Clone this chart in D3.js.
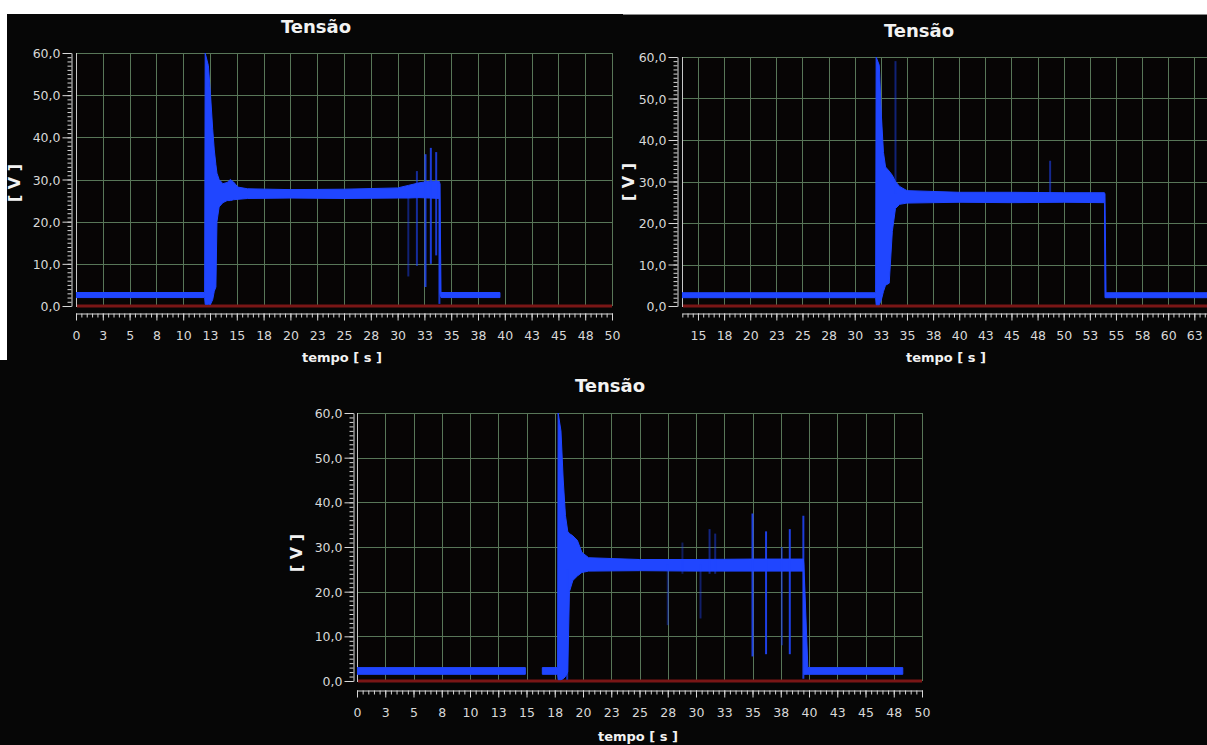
<!DOCTYPE html>
<html>
<head>
<meta charset="utf-8">
<script src="https://cdn.jsdelivr.net/npm/d3@7"></script>
<style>
  html, body { margin: 0; padding: 0; background: #060606; }
  svg { display: block; }
</style>
</head>
<body>
<svg id="chart" width="1207" height="745"></svg>
<script>
// ---- Axis ticks and labels ----
const yTickValues = [0, 10, 20, 30, 40, 50, 60];
const yTickLabels = ["0,0", "10,0", "20,0", "30,0", "40,0", "50,0", "60,0"];

const xTickValuesA = [0, 2.5, 5, 7.5, 10, 12.5, 15, 17.5, 20, 22.5, 25, 27.5, 30, 32.5, 35, 37.5, 40, 42.5, 45, 47.5, 50];
const xTickLabelsA = ["0", "3", "5", "8", "10", "13", "15", "18", "20", "23", "25", "28", "30", "33", "35", "38", "40", "43", "45", "48", "50"];

const xTickValuesB = [15, 17.5, 20, 22.5, 25, 27.5, 30, 32.5, 35, 37.5, 40, 42.5, 45, 47.5, 50, 52.5, 55, 57.5, 60, 62.5];
const xTickLabelsB = ["15", "18", "20", "23", "25", "28", "30", "33", "35", "38", "40", "43", "45", "48", "50", "53", "55", "58", "60", "63"];

// ---- Voltage traces: [time s, min V, max V]; null breaks the trace ----
const envelopeA = [
  [0, 2.0, 3.2], [12.0, 2.0, 3.2],
  [12.05, 0.4, 60], [12.35, 0.4, 57], [12.55, 0.4, 50], [12.75, 1.5, 42],
  [12.9, 3.5, 37], [13.05, 4.5, 33.5], [13.15, 20, 31.5], [13.35, 23.5, 30],
  [13.7, 24.5, 29], [14.1, 25, 29.3], [14.4, 25, 30], [14.7, 25.2, 29.4],
  [15.1, 25.3, 28.2], [16, 25.5, 27.8], [20, 25.6, 27.6], [25, 25.5, 27.7],
  [30, 25.6, 28], [31, 25.6, 28.6], [32, 25.7, 29.2], [33, 25.6, 29.6],
  [33.9, 25.5, 29.5], [33.95, 3, 29], [34.05, 2.0, 3.2], [39.55, 2.0, 3.2]
];
// isolated transients: [time s, min V, max V, intensity]
const spikesA = [
  [31.0, 7, 27, 0.45], [31.8, 9.5, 32, 0.6], [32.6, 4.5, 36, 0.85],
  [33.1, 10, 37.5, 0.85], [33.6, 12, 36.5, 0.8], [33.9, 0.5, 29, 0.8]
];

const envelopeB = [
  [13.47, 2.0, 3.2], [32.0, 2.0, 3.2],
  [32.05, 0.3, 60], [32.35, 0.3, 58], [32.55, 1.5, 46], [32.75, 3.5, 37],
  [32.95, 5, 33.5], [33.3, 5.5, 32.5], [33.6, 18, 31.5], [33.9, 23.5, 30],
  [34.3, 24.5, 28.8], [35, 24.8, 27.8], [40, 25, 27.4], [45, 24.9, 27.4],
  [50, 25, 27.3], [53.9, 24.9, 27.3], [53.95, 2, 27], [54.05, 2.0, 3.2], [64, 2.0, 3.2]
];
const spikesB = [
  [33.9, 27, 59, 0.45], [48.7, 27, 35, 0.55]
];

const envelopeC = [
  [0, 1.5, 3.0], [14.9, 1.5, 3.0], null,
  [16.4, 1.5, 3.0], [17.75, 1.5, 3.0],
  [17.8, 0.3, 60], [18.05, 0.3, 56], [18.25, 0.5, 45], [18.45, 1, 37],
  [18.65, 2, 33.5], [18.8, 20, 33], [19.1, 22.5, 32.5], [19.5, 23.5, 31.5],
  [19.9, 24.3, 28.8], [20.5, 24.6, 27.6], [25, 24.7, 27.2], [30, 24.6, 27.2],
  [35, 24.6, 27.3], [39.5, 24.6, 27.3], [39.55, 1.5, 26], [39.9, 1.5, 3.0], [48.3, 1.5, 3.0]
];
const spikesC = [
  [18.6, 0.3, 25, 0.7], [27.5, 12.5, 26, 0.4], [28.8, 24, 31, 0.35],
  [30.4, 14, 26, 0.4], [31.2, 24, 34, 0.5], [31.7, 24, 33, 0.45],
  [35.0, 5.5, 37.5, 0.9], [36.2, 6, 33.5, 0.9], [37.6, 8, 30, 0.5],
  [38.3, 6, 34, 0.9], [39.5, 0.5, 37, 0.85]
];

// ---- Panel layout ----
const panels = [
  { id: "a", left: 76, right: 612, top: 53, bottom: 306, yAxisX: 71, xAxisY: 313,
    xDomain: [0, 50], xTicks: xTickValuesA, xLabels: xTickLabelsA,
    envelope: envelopeA, spikes: spikesA,
    title: [316, 33], yTitle: [14, 183], xTitle: [342, 362] },
  { id: "b", left: 682, right: 1210, top: 57, bottom: 306, yAxisX: 677, xAxisY: 313,
    xDomain: [13.47, 64], xTicks: xTickValuesB, xLabels: xTickLabelsB,
    envelope: envelopeB, spikes: spikesB,
    title: [919, 37], yTitle: [628, 182], xTitle: [946, 362] },
  { id: "c", left: 357, right: 922, top: 413, bottom: 681, yAxisX: 353, xAxisY: 690,
    xDomain: [0, 50], xTicks: xTickValuesA, xLabels: xTickLabelsA,
    envelope: envelopeC, spikes: spikesC,
    title: [610, 392], yTitle: [296, 553], xTitle: [638, 741] }
];

const TRACE = "#2046ff";
const GRID = "#587658";
const AXIS = "#d8d8d8";
const ZERO = "#7a1616";

const svg = d3.select("#chart");
svg.append("rect").attr("width", 1207).attr("height", 745).attr("fill", "#060606");
// light margin along the top and upper left edge
svg.append("rect").attr("x", 0).attr("y", 0).attr("width", 1207).attr("height", 14).attr("fill", "#ffffff");
svg.append("rect").attr("x", 0).attr("y", 0).attr("width", 7).attr("height", 360).attr("fill", "#ffffff");
svg.append("line").attr("x1", 623).attr("x2", 1207).attr("y1", 14.5).attr("y2", 14.5)
  .attr("stroke", "#8a8a8a").attr("stroke-width", 1);

const defs = svg.append("defs");

function drawPanel(p) {
  const x = d3.scaleLinear().domain(p.xDomain).range([p.left, p.right]);
  const y = d3.scaleLinear().domain([0, 60]).range([p.bottom, p.top]);
  const g = svg.append("g");

  defs.append("clipPath").attr("id", "clip-" + p.id)
    .append("rect").attr("x", p.left).attr("y", p.top - 2)
    .attr("width", p.right - p.left).attr("height", p.bottom - p.top + 4);

  // plot background
  g.append("rect").attr("x", p.left).attr("y", p.top)
    .attr("width", p.right - p.left).attr("height", p.bottom - p.top)
    .attr("fill", "#070505");

  // grid
  g.selectAll("line.hgrid").data(yTickValues.filter(v => v > 0)).join("line")
    .attr("class", "hgrid")
    .attr("x1", p.left).attr("x2", p.right)
    .attr("y1", d => Math.round(y(d)) + 0.5).attr("y2", d => Math.round(y(d)) + 0.5)
    .attr("stroke", GRID).attr("stroke-width", 1);
  g.selectAll("line.vgrid").data(p.xTicks.filter(v => v > p.xDomain[0])).join("line")
    .attr("class", "vgrid")
    .attr("x1", d => Math.round(x(d)) + 0.5).attr("x2", d => Math.round(x(d)) + 0.5)
    .attr("y1", p.top).attr("y2", p.bottom)
    .attr("stroke", GRID).attr("stroke-width", 1);
  // right edge of the plot
  g.append("line").attr("x1", p.right + 0.5).attr("x2", p.right + 0.5)
    .attr("y1", p.top).attr("y2", p.bottom).attr("stroke", GRID);
  // left edge of the plot
  g.append("line").attr("x1", p.left + 0.5).attr("x2", p.left + 0.5)
    .attr("y1", p.top).attr("y2", p.bottom + 1).attr("stroke", "#c8c8c8");

  // zero reference
  g.append("line").attr("x1", p.left + 1).attr("x2", p.right)
    .attr("y1", y(0)).attr("y2", y(0))
    .attr("stroke", ZERO).attr("stroke-width", 3);

  // trace
  const trace = g.append("g").attr("clip-path", "url(#clip-" + p.id + ")");
  const area = d3.area()
    .defined(d => d !== null)
    .x(d => x(d[0]))
    .y0(d => y(d[1]))
    .y1(d => y(d[2]));
  trace.append("path").datum(p.envelope)
    .attr("d", area)
    .attr("fill", TRACE)
    .attr("stroke", TRACE).attr("stroke-width", 1).attr("stroke-linejoin", "round");
  trace.selectAll("line.spike").data(p.spikes).join("line")
    .attr("class", "spike")
    .attr("x1", d => x(d[0])).attr("x2", d => x(d[0]))
    .attr("y1", d => y(d[1])).attr("y2", d => y(d[2]))
    .attr("stroke", TRACE).attr("stroke-width", 2)
    .attr("stroke-opacity", d => d[3]);

  // y axis: minor then major ticks
  const yMinor = d3.axisLeft(y).tickValues(d3.range(0, 61, 1)).tickSize(4).tickFormat("");
  const gyMinor = g.append("g").attr("transform", `translate(${p.yAxisX + 0.5},0)`).call(yMinor);
  gyMinor.select(".domain").remove();
  const yAxis = d3.axisLeft(y).tickValues(yTickValues)
    .tickFormat((d, i) => yTickLabels[i]).tickSize(9).tickSizeOuter(0).tickPadding(2);
  const gy = g.append("g").attr("transform", `translate(${p.yAxisX + 0.5},0)`).call(yAxis);

  // x axis: minor then major ticks
  const minorVals = d3.range(Math.ceil(p.xDomain[0] * 2) / 2, p.xDomain[1] + 0.001, 0.5);
  const xMinor = d3.axisBottom(x).tickValues(minorVals).tickSize(4).tickFormat("");
  const gxMinor = g.append("g").attr("transform", `translate(0,${p.xAxisY + 0.5})`).call(xMinor);
  gxMinor.select(".domain").remove();
  const xAxis = d3.axisBottom(x).tickValues(p.xTicks)
    .tickFormat((d, i) => p.xLabels[i]).tickSize(7).tickSizeOuter(0).tickPadding(11);
  const gx = g.append("g").attr("transform", `translate(0,${p.xAxisY + 0.5})`).call(xAxis);

  [gy, gyMinor, gx, gxMinor].forEach(ax => {
    ax.selectAll("path, line").attr("stroke", AXIS).attr("stroke-width", 1);
    ax.selectAll("text").attr("fill", AXIS)
      .attr("font-family", "'DejaVu Sans', sans-serif").attr("font-size", 12.5);
  });
  gy.selectAll("text").attr("dy", "0.36em");

  // titles
  g.append("text").attr("x", p.title[0]).attr("y", p.title[1])
    .attr("text-anchor", "middle").attr("fill", "#f2f2f2")
    .attr("font-family", "'DejaVu Sans', sans-serif").attr("font-weight", "bold")
    .attr("font-size", 18).text("Tensão");
  g.append("text")
    .attr("transform", `translate(${p.yTitle[0]},${p.yTitle[1]}) rotate(-90)`)
    .attr("text-anchor", "middle").attr("dominant-baseline", "central")
    .attr("fill", "#f2f2f2")
    .attr("font-family", "'DejaVu Sans', sans-serif").attr("font-weight", "bold")
    .attr("font-size", 16).text("[ V ]");
  g.append("text").attr("x", p.xTitle[0]).attr("y", p.xTitle[1])
    .attr("text-anchor", "middle").attr("fill", "#f2f2f2")
    .attr("font-family", "'DejaVu Sans', sans-serif").attr("font-weight", "bold")
    .attr("font-size", 13).text("tempo [ s ]");
}

panels.forEach(drawPanel);
</script>
</body>
</html>
